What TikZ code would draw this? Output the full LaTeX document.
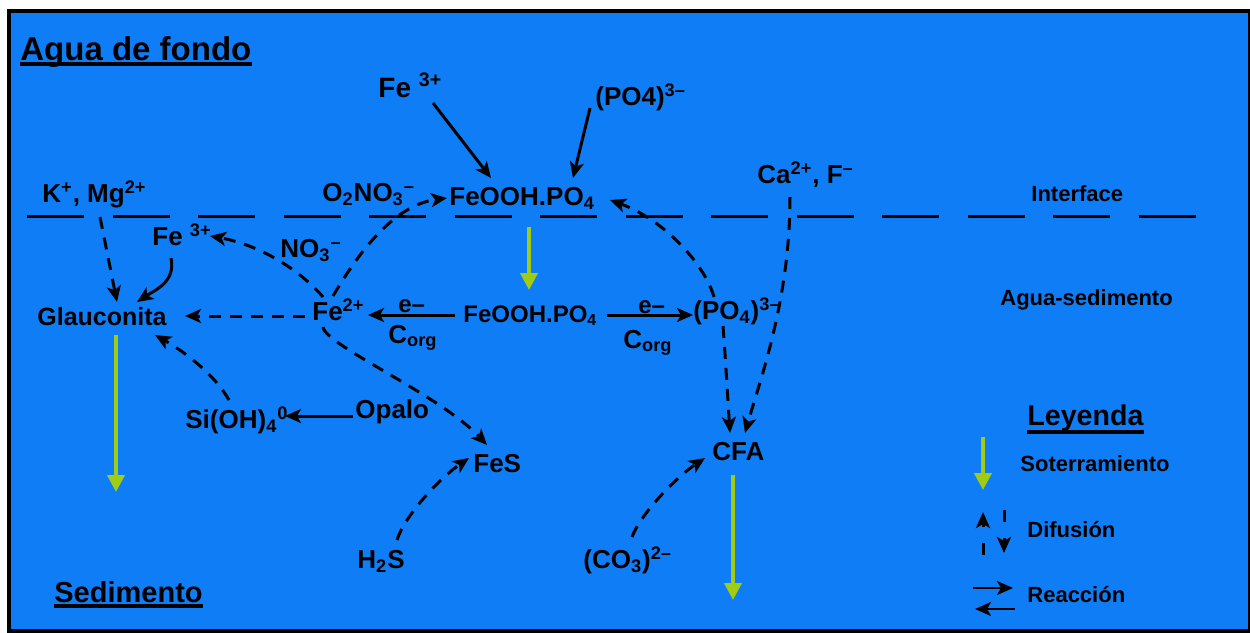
\documentclass[tikz,border=0pt]{standalone}
\usepackage{fontspec}
\setmainfont{Liberation Sans}
\usetikzlibrary{arrows.meta,calc}
\definecolor{seabg}{RGB}{15,125,245}
\definecolor{burial}{RGB}{160,205,20}
\begin{document}
\begin{tikzpicture}[x=0.5pt,y=-0.5pt,
  lbl/.style={font=\fontsize{13}{15}\selectfont\bfseries, inner sep=0pt, anchor=base west},
  lblsm/.style={font=\fontsize{12}{14}\selectfont\bfseries, inner sep=0pt, anchor=base west},
  small/.style={font=\fontsize{11}{13}\selectfont\bfseries, inner sep=0pt, anchor=base west},
  heading/.style={font=\fontsize{#1}{#1}\selectfont\bfseries, inner sep=0pt, anchor=base west},
  rxn/.style={line width=1.5pt, -{Stealth[length=8pt,width=7pt,inset=2pt]}},
  dif/.style={line width=1.5pt, dash pattern=on 6pt off 4.5pt, -{Stealth[length=8pt,width=7pt,inset=2pt]}},
  bur/.style={line width=2pt, draw=burial, -{Triangle[length=8.5pt,width=8.5pt]}},
  uline/.style={line width=2pt},
]
\useasboundingbox (0,0) rectangle (1250,633);
\fill[white] (0,0) rectangle (1250,633);
\filldraw[fill=seabg, draw=black, line width=2pt] (9,11) rectangle (1250,631);

% sediment-water interface
\coordinate (ifL) at (27,216);
\coordinate (ifR) at (1196,216);
\draw[line width=1.5pt, dash pattern=on 28.5pt off 14.25pt] (ifL) -- (ifR);

% headings
\node[heading=16.5] (agua) at (20,60) {Agua de fondo};
\draw[uline] ($(agua.base west)+(0,4)$) -- ($(agua.base east)+(0,4)$);
\node[heading=14.5] (sedim) at (54,602) {Sedimento};
\draw[uline] ($(sedim.base west)+(0,4)$) -- ($(sedim.base east)+(0,4)$);
\node[heading=14.3] (leyenda) at (1027,425) {Leyenda};
\draw[uline] ($(leyenda.base west)+(0,7)$) -- ($(leyenda.base east)+(0,7)$);

% zone labels
\node[small] (interface) at (1031,201) {Interface};
\node[small] (aguased) at (1000,305) {Agua-sedimento};

% species
\node[heading=14] (fe3top) at (378,97) {Fe \textsuperscript{3+}};
\node[lbl] (po4top) at (595,105) {(PO4)\textsuperscript{3--}};
\node[lbl] (feoohtop) at (449,205) {FeOOH.PO\textsubscript{4}};
\node[lbl] (o2no3) at (322,201) {O\textsubscript{2}NO\textsubscript{3}\textsuperscript{--}};
\node[lbl] (kmg) at (42,202) {K\textsuperscript{+}, Mg\textsuperscript{2+}};
\node[lbl] (caf) at (757,183) {Ca\textsuperscript{2+}, F\textsuperscript{--}};
\node[lbl] (fe3b) at (152,245) {Fe \textsuperscript{3+}};
\node[lbl] (no3) at (280,257) {NO\textsubscript{3}\textsuperscript{--}};
\node[heading=12.5] (glauc) at (37,325) {Glauconita};
\node[lbl] (fe2) at (312,320) {Fe\textsuperscript{2+}};
\node[lblsm] (e1) at (398,312) {e--};
\node[lbl] (corg1) at (388,343) {C\textsubscript{org}};
\node[lblsm] (feoohmid) at (463,322) {FeOOH.PO\textsubscript{4}};
\node[lblsm] (e2) at (638,313) {e--};
\node[lbl] (corg2) at (623,348) {C\textsubscript{org}};
\node[lbl] (po4mid) at (693,319) {(PO\textsubscript{4})\textsuperscript{3--}};
\node[lbl] (opalo) at (355,418) {Opalo};
\node[lbl] (sioh) at (185,428) {Si(OH)\textsubscript{4}\textsuperscript{0}};
\node[lbl] (fes) at (473,472) {FeS};
\node[lbl] (cfa) at (712,460) {CFA};
\node[lbl] (h2s) at (357,568) {H\textsubscript{2}S};
\node[lbl] (co3) at (583,568) {(CO\textsubscript{3})\textsuperscript{2--}};

% legend labels
\node[small] (soterr) at (1020,471) {Soterramiento};
\node[small] (difus) at (1027,537) {Difusión};
\node[small] (reacc) at (1027,602) {Reacción};

% reactions (solid)
\draw[rxn] ($(fe3top.base west)+(55,6)$) -- ($(feoohtop.base west)+(42,-27)$);
\draw[rxn] ($(po4top.base west)+(-5,3)$) -- ($(feoohtop.base west)+(124,-27)$);
\draw[rxn] ($(feoohmid.base west)+(-8,-7)$) -- ($(fe2.base west)+(56,-5)$);
\draw[rxn] ($(feoohmid.base west)+(144,-7)$) -- ($(po4mid.base west)+(0,-4)$);
\draw[rxn] ($(opalo.base west)+(-2,-2)$) -- ($(sioh.base west)+(100,-12)$);
\draw[rxn] ($(fe3b.base west)+(19,13)$) .. controls +(5,24) and +(18,-12) .. ($(glauc.base west)+(100,-23)$);

% diffusion (dashed)
\draw[dif] ($(fe2.base west)+(21,-24)$) .. controls +(27,-46) and +(-52,7) .. ($(feoohtop.base west)+(-2,-7)$);
\draw[dif] ($(po4mid.base west)+(21,-22)$) .. controls +(-9,-32) and +(55,20) .. ($(feoohtop.base west)+(161,-5)$);
\draw[dif] ($(fe2.base west)+(11,-23)$) .. controls +(-23,-27) and +(50,9) .. ($(fe3b.base west)+(58,-9)$);
\draw[dif] ($(fe2.base west)+(-7,-4)$) -- ($(glauc.base west)+(148,-9)$);
\draw[dif] ($(kmg.base west)+(58,15)$) -- ($(glauc.base west)+(80,-23)$);
\draw[dif] ($(sioh.base west)+(44,-28)$) .. controls +(-14,-25) and +(30,17) .. ($(glauc.base west)+(118,10)$);
\draw[dif] ($(fe2.base west)+(11,7)$) .. controls +(2,18) and +(-47,-50) .. ($(fes.base west)+(14,-27)$);
\draw[dif] ($(h2s.base west)+(40,-28)$) .. controls +(8,-25) and +(-29,20) .. ($(fes.base west)+(-4,-14)$);
\draw[dif] ($(co3.base west)+(49,-31)$) .. controls +(8,-22) and +(-30,20) .. ($(cfa.base west)+(-7,-2)$);
\draw[dif] ($(po4mid.base west)+(30,7)$) .. controls +(3,40) and +(-2,-30) .. ($(cfa.base west)+(18,-27)$);
\draw[dif] ($(caf.base west)+(33,14)$) .. controls +(0,103) and +(15,-53) .. ($(cfa.base west)+(33,-27)$);

% burial (green)
\coordinate (glaucEnd) at (116,492);
\coordinate (cfaEnd) at (733,600);
\draw[bur] ($(feoohtop.base west)+(80,22)$) -- ($(feoohmid.base west)+(66,-32)$);
\draw[bur] ($(glauc.base west)+(79,10)$) -- (glaucEnd);
\draw[bur] ($(cfa.base west)+(21,15)$) -- (cfaEnd);

% legend symbols
\coordinate (lgA) at (983,437);
\coordinate (lgB) at (983,490);
\draw[bur] (lgA) -- (lgB);
\coordinate (lgUpA) at (983,555);
\coordinate (lgUpB) at (983,512);
\draw[line width=1.5pt, dash pattern=on 6pt off 8pt, -{Stealth[length=8pt,width=7pt,inset=2pt]}] (lgUpA) -- (lgUpB);
\coordinate (lgDnA) at (1004,510);
\coordinate (lgDnB) at (1004,553);
\draw[line width=1.5pt, dash pattern=on 6pt off 8pt, -{Stealth[length=8pt,width=7pt,inset=2pt]}] (lgDnA) -- (lgDnB);
\coordinate (lgRA) at (973,588);
\coordinate (lgRB) at (1013,588);
\draw[line width=1pt, -{Stealth[length=8pt,width=7pt,inset=2pt]}] (lgRA) -- (lgRB);
\coordinate (lgLA) at (1015,609);
\coordinate (lgLB) at (975,609);
\draw[line width=1pt, -{Stealth[length=8pt,width=7pt,inset=2pt]}] (lgLA) -- (lgLB);
\end{tikzpicture}
\end{document}
